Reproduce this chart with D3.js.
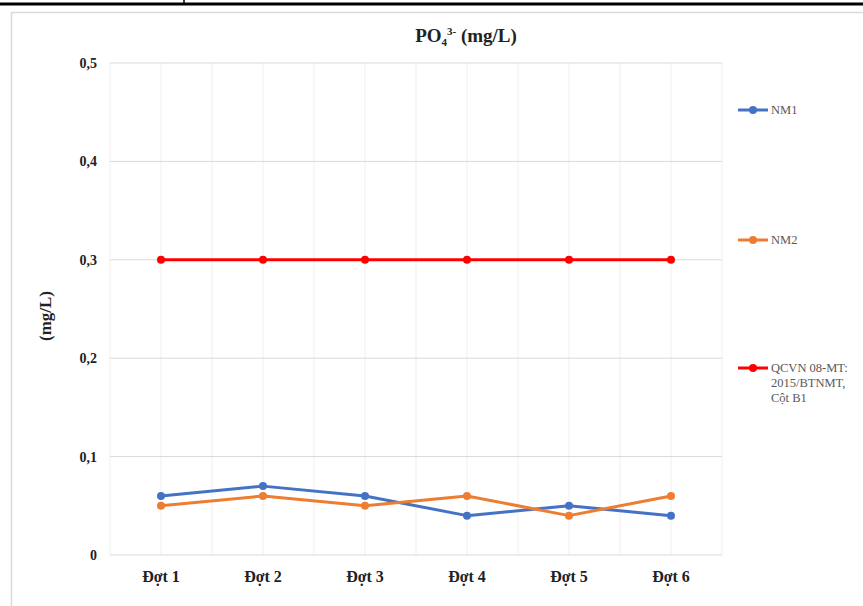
<!DOCTYPE html>
<html>
<head>
<meta charset="utf-8">
<script src="https://cdn.jsdelivr.net/npm/d3@7"></script>
<style>
  body { margin: 0; background: #fff; }
  svg { display: block; font-family: "Liberation Serif", "Times New Roman", serif; }
</style>
</head>
<body>
<svg id="chart" width="863" height="606"></svg>
<script>
var categories = ["Đợt 1", "Đợt 2", "Đợt 3", "Đợt 4", "Đợt 5", "Đợt 6"];
var nm1 = [0.06, 0.07, 0.06, 0.04, 0.05, 0.04];
var nm2 = [0.05, 0.06, 0.05, 0.06, 0.04, 0.06];
var qcvn = [0.3, 0.3, 0.3, 0.3, 0.3, 0.3];
var yTicks = [0, 0.1, 0.2, 0.3, 0.4, 0.5];

var series = [
  { name: "NM1", values: nm1, color: "#4472c4", legendY: 110, label: ["NM1"] },
  { name: "NM2", values: nm2, color: "#ed7d31", legendY: 240, label: ["NM2"] },
  { name: "QCVN", values: qcvn, color: "#ff0000", legendY: 368, label: ["QCVN 08-MT:", "2015/BTNMT,", "Cột B1"] }
];

var svg = d3.select("#chart");

// page lines above the chart frame
svg.append("line").attr("x1", 0).attr("x2", 863).attr("y1", 4).attr("y2", 4)
  .attr("stroke", "#000").attr("stroke-width", 3);
svg.append("line").attr("x1", 184).attr("x2", 184).attr("y1", 0).attr("y2", 4)
  .attr("stroke", "#000").attr("stroke-width", 1.5);

// chart frame
svg.append("rect").attr("x", 11.5).attr("y", 12.5).attr("width", 870).attr("height", 620)
  .attr("fill", "#fff").attr("stroke", "#d9d9d9").attr("stroke-width", 1.5);

var plotL = 110, plotR = 722, plotT = 63, plotB = 555;

var x = d3.scaleBand().domain(categories).range([plotL, plotR]);
var y = d3.scaleLinear().domain([0, 0.5]).range([plotB, plotT]);

var g = svg.append("g");

// vertical gridlines (category centres and boundaries)
var vlines = [];
categories.forEach(function(c) { vlines.push(x(c)); vlines.push(x(c) + x.bandwidth() / 2); });
vlines.push(plotR);
g.selectAll(".vgrid").data(vlines).enter().append("line")
  .attr("x1", function(d) { return d; }).attr("x2", function(d) { return d; })
  .attr("y1", plotT).attr("y2", plotB)
  .attr("stroke", "#efefef").attr("stroke-width", 1);

// horizontal gridlines
g.selectAll(".hgrid").data(yTicks).enter().append("line")
  .attr("x1", plotL).attr("x2", plotR)
  .attr("y1", function(d) { return y(d); }).attr("y2", function(d) { return y(d); })
  .attr("stroke", "#d9d9d9").attr("stroke-width", 1);

// y axis labels
var fmt = function(d) { return d === 0 ? "0" : d3.format(".1f")(d).replace(".", ","); };
var yAxis = g.append("g").attr("transform", "translate(" + plotL + ",0)")
  .call(d3.axisLeft(y).tickValues(yTicks).tickFormat(fmt).tickSize(0).tickPadding(13));
yAxis.select(".domain").remove();
yAxis.selectAll("text").attr("font-family", "Liberation Serif").attr("font-weight", "bold")
  .attr("font-size", 14).attr("fill", "#222");

// x axis labels
var xAxis = g.append("g").attr("transform", "translate(0," + plotB + ")")
  .call(d3.axisBottom(x).tickSize(0).tickPadding(16));
xAxis.select(".domain").remove();
xAxis.selectAll("text").attr("font-family", "Liberation Serif").attr("font-weight", "bold")
  .attr("font-size", 16).attr("fill", "#222");

// series
var line = d3.line()
  .x(function(d, i) { return x(categories[i]) + x.bandwidth() / 2; })
  .y(function(d) { return y(d); });

series.forEach(function(s) {
  g.append("path").datum(s.values)
    .attr("d", line).attr("fill", "none")
    .attr("stroke", s.color).attr("stroke-width", 3).attr("stroke-linejoin", "round");
  g.selectAll(null).data(s.values).enter().append("circle")
    .attr("cx", function(d, i) { return x(categories[i]) + x.bandwidth() / 2; })
    .attr("cy", function(d) { return y(d); })
    .attr("r", 4).attr("fill", s.color);
});

// title
var title = svg.append("text").attr("x", 466).attr("y", 42).attr("text-anchor", "middle")
  .attr("font-weight", "bold").attr("font-size", 19).attr("fill", "#222");
title.append("tspan").text("PO");
title.append("tspan").attr("font-size", 11).attr("dy", 4).text("4");
title.append("tspan").attr("font-size", 11).attr("dy", -11).text("3-");
title.append("tspan").attr("dy", 7).text(" (mg/L)");

// y axis title
svg.append("text").attr("transform", "translate(51,316) rotate(-90)")
  .attr("text-anchor", "middle").attr("font-weight", "bold").attr("font-size", 17)
  .attr("fill", "#222").text("(mg/L)");

// legend
series.forEach(function(s) {
  var lg = svg.append("g").attr("transform", "translate(738," + s.legendY + ")");
  lg.append("line").attr("x1", 0).attr("x2", 30).attr("y1", 0).attr("y2", 0)
    .attr("stroke", s.color).attr("stroke-width", 3);
  lg.append("circle").attr("cx", 15).attr("cy", 0).attr("r", 4).attr("fill", s.color);
  s.label.forEach(function(t, i) {
    lg.append("text").attr("x", 33).attr("y", 4 + i * 15)
      .attr("font-size", 12.5).attr("fill", "#595959").text(t);
  });
});
</script>
</body>
</html>
